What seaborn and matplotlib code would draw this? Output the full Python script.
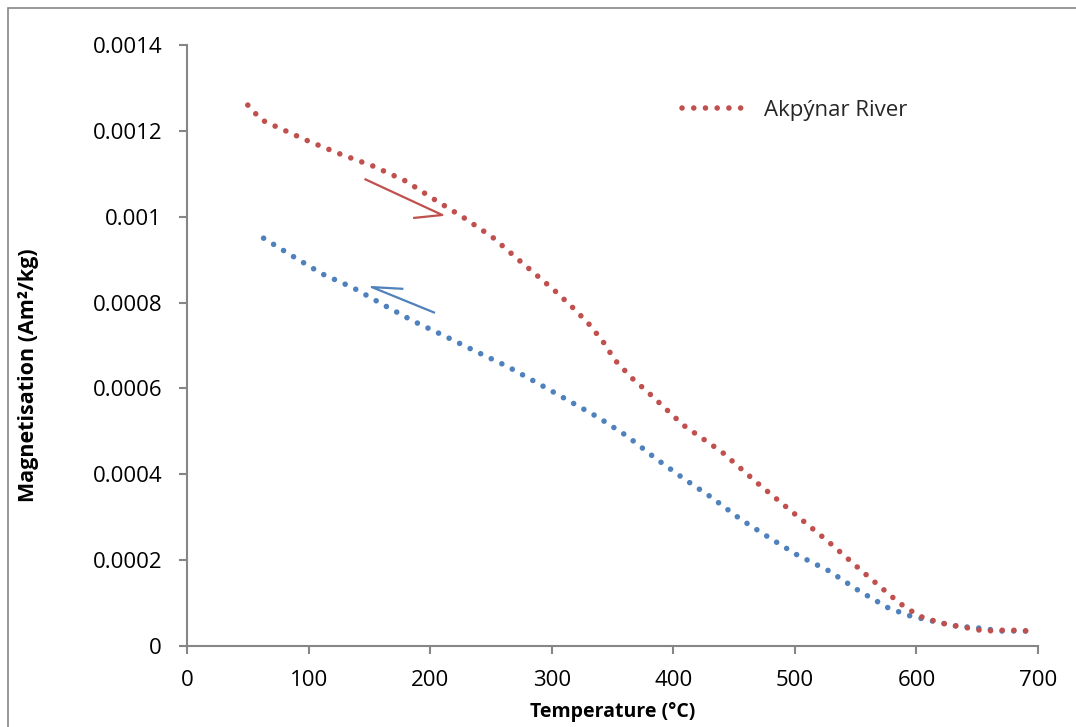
import matplotlib
matplotlib.use("Agg")
import matplotlib.pyplot as plt
import seaborn as sns
import pandas as pd
from matplotlib.patches import Rectangle

# Heating curve (Akpýnar River sample)
heat_temp = [50, 61, 74, 100, 126, 153, 180, 203, 227, 251, 273, 302, 316, 330, 342,
             352, 366, 380, 408, 440, 469, 498, 528, 557, 586, 602, 620, 638, 656, 675, 694]
heat_mag = [0.001260, 0.001226, 0.001209, 0.001176, 0.001146, 0.001118, 0.001083, 0.001041,
            0.000999, 0.000953, 0.000899, 0.000829, 0.000792, 0.000752, 0.000710,
            0.000666, 0.000624, 0.000589, 0.000515, 0.000452, 0.000380, 0.000312, 0.000242,
            0.000170, 0.000100, 0.000070, 0.0000536, 0.0000443, 0.0000349, 0.0000373, 0.0000349]

# Cooling curve
cool_temp = [63, 87, 111, 137, 162, 186, 212, 237, 263, 288, 313, 338, 362, 385, 408, 431,
             455, 478, 502, 528, 553, 577, 595, 613, 632, 651, 670, 689, 699]
cool_mag = [0.000950, 0.000908, 0.000867, 0.000834, 0.000794, 0.000757, 0.000722, 0.000687,
            0.000652, 0.000613, 0.000573, 0.000533, 0.000489, 0.000438, 0.000391, 0.000347,
            0.000296, 0.000254, 0.000212, 0.000175, 0.000128, 0.0000885, 0.0000699,
            0.0000582, 0.0000466, 0.0000419, 0.0000349, 0.0000349, 0.0000326]

x_ticks = [0, 100, 200, 300, 400, 500, 600, 700]
y_ticks = [0, 0.0002, 0.0004, 0.0006, 0.0008, 0.001, 0.0012, 0.0014]
y_tick_labels = ["0", "0.0002", "0.0004", "0.0006", "0.0008", "0.001", "0.0012", "0.0014"]

legend_label = "Akpýnar River"
x_label = "Temperature (°C)"
y_label = "Magnetisation (Am²/kg)"

# Direction arrows (heating goes down-right, cooling goes up-left)
heat_arrow_x = [146, 210, 186]
heat_arrow_y = [0.001088, 0.001004, 0.000997]
cool_arrow_x = [204, 152, 178]
cool_arrow_y = [0.000776, 0.000836, 0.000832]

RED = "#C0504D"
BLUE = "#4F81BD"
AXIS_GREY = "#868686"

sns.set_theme(style="white")
plt.rcParams["font.family"] = ["Open Sans", "DejaVu Sans"]

fig = plt.figure(figsize=(10.76, 7.27), dpi=100)
ax = fig.add_axes([187 / 1076, 1 - 646 / 727, (1038 - 187) / 1076, (646 - 45) / 727])

heat_df = pd.DataFrame({"T": heat_temp, "M": heat_mag})
cool_df = pd.DataFrame({"T": cool_temp, "M": cool_mag})

dot_style = dict(linewidth=4.0, linestyle=(0, (0.01, 2.1)), dash_capstyle="round",
                 sort=False, estimator=None)
sns.lineplot(data=cool_df, x="T", y="M", ax=ax, color=BLUE, **dot_style)
sns.lineplot(data=heat_df, x="T", y="M", ax=ax, color=RED, label=legend_label, **dot_style)

ax.plot(heat_arrow_x, heat_arrow_y, color=RED, lw=1.6, solid_capstyle="butt")
ax.plot(cool_arrow_x, cool_arrow_y, color=BLUE, lw=1.6, solid_capstyle="butt")

ax.set_xlim(0, 700)
ax.set_ylim(0, 0.0014)
ax.set_xticks(x_ticks)
ax.set_xticklabels([str(v) for v in x_ticks])
ax.set_yticks(y_ticks)
ax.set_yticklabels(y_tick_labels)

for side in ["top", "right"]:
    ax.spines[side].set_visible(False)
for side in ["left", "bottom"]:
    ax.spines[side].set_color(AXIS_GREY)
    ax.spines[side].set_linewidth(1.5)

ax.tick_params(axis="both", which="major", direction="out", length=6, width=1.5,
               color=AXIS_GREY, labelsize=16, labelcolor="black")
ax.tick_params(axis="y", pad=12, left=True)
ax.tick_params(axis="x", pad=11, bottom=True)

ax.set_xlabel(x_label, fontsize=14, fontweight="bold", color="black")
ax.set_ylabel(y_label, fontsize=15.5, fontweight="bold", color="black")
ax.xaxis.set_label_coords(0.5, -0.093)
ax.yaxis.set_label_coords(-0.174, 0.451)

leg = ax.legend(loc="center left", bbox_to_anchor=(0.5817, 0.891), frameon=False,
                fontsize=16, handlelength=3.0, handletextpad=0.7, borderpad=0,
                borderaxespad=0)

# Chart area outline
fig.patches.append(Rectangle((8 / 1076, -0.5), 2.0, 1 - 8 / 727 + 0.5,
                             transform=fig.transFigure, fill=False,
                             edgecolor=AXIS_GREY, linewidth=1.2, zorder=0))

fig.savefig("out.png", dpi=100)
